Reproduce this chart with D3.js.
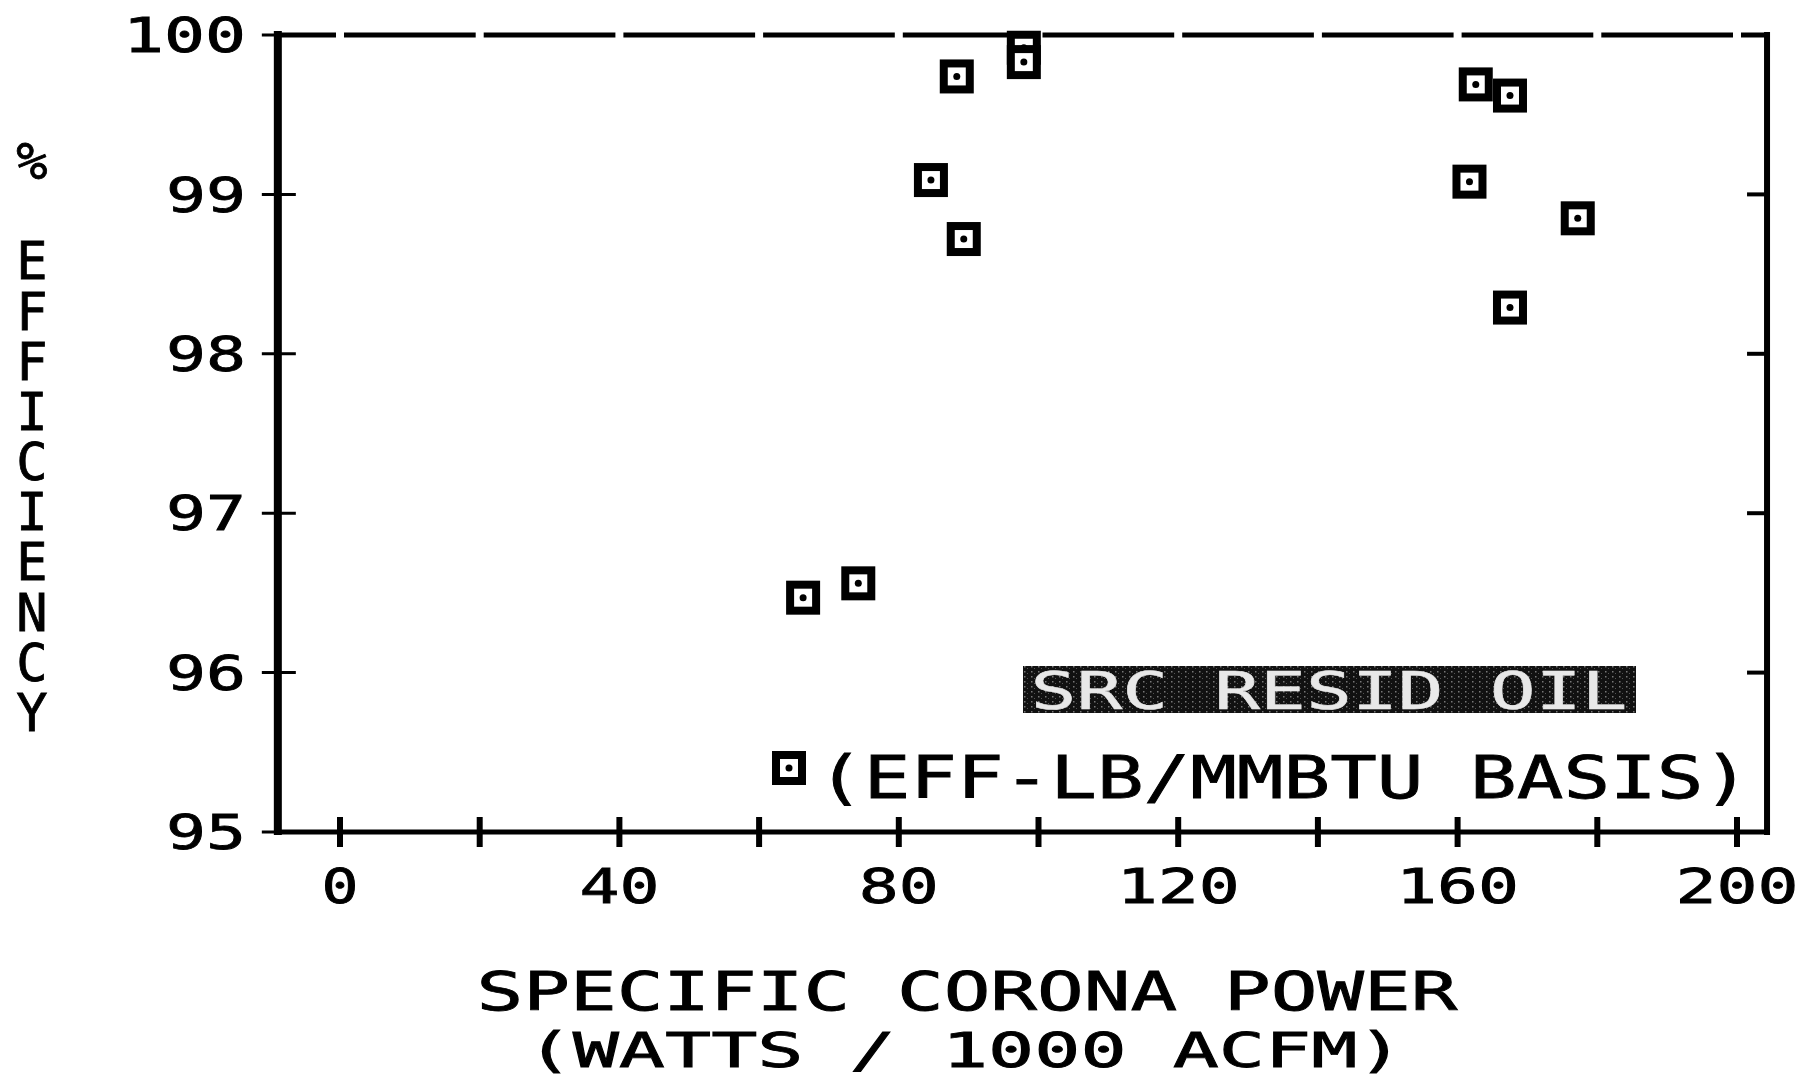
<!DOCTYPE html>
<html>
<head>
<meta charset="utf-8">
<script src="https://cdn.jsdelivr.net/npm/d3@7/dist/d3.min.js"></script>
<style>
  html, body { margin: 0; padding: 0; background: #fff; }
  svg { display: block; }
  text { font-family: "DejaVu Sans Mono", "Liberation Mono", monospace; fill: #000; stroke: #000; stroke-width: 0.8; }
</style>
</head>
<body>
<svg id="chart" width="1817" height="1079"></svg>
<script>
// data
var effX = [66.3, 74.2, 84.6, 88.3, 89.3, 97.9, 97.9, 162.6, 167.5, 161.7, 177.2, 167.5];
var effY = [96.47, 96.56, 99.09, 99.74, 98.72, 99.92, 99.83, 99.69, 99.62, 99.08, 98.85, 98.29];

var xTicks = [0, 20, 40, 60, 80, 100, 120, 140, 160, 180, 200];
var xTickLabels = [0, 40, 80, 120, 160, 200];
var yTicks = [95, 96, 97, 98, 99, 100];
var xFrame = [-8.9, 204.3];           // plot box edges in data units
var yTitle = "% EFFICIENCY";
var xTitle = ["SPECIFIC CORONA POWER", "(WATTS / 1000 ACFM)"];
var legendBox = "SRC RESID OIL";
var legendLabel = "(EFF-LB/MMBTU BASIS)";

var svg = d3.select("#chart");

var x = d3.scaleLinear().domain([0, 200]).range([340, 1737]);
var y = d3.scaleLinear().domain([95, 100]).range([832, 35]);

var pLeft = x(xFrame[0]), pRight = x(xFrame[1]);
var pTop = y(100), pBottom = y(95);

// text helper: stretched to a given width like the plotter font
function label(g, str, px, py, size, width, anchor) {
  var t = g.append("text")
    .attr("x", px).attr("y", py)
    .attr("dy", "0.36em")
    .attr("font-size", size)
    .attr("text-anchor", anchor || "middle")
    .text(str);
  if (width) t.attr("textLength", width).attr("lengthAdjust", "spacingAndGlyphs");
  return t;
}

// frame
var frame = svg.append("g").attr("stroke", "#000").attr("fill", "none");
frame.append("line").attr("x1", pLeft).attr("x2", pLeft).attr("y1", pTop - 4).attr("y2", pBottom + 3).attr("stroke-width", 8);
frame.append("line").attr("x1", pRight).attr("x2", pRight).attr("y1", pTop - 3).attr("y2", pBottom + 3).attr("stroke-width", 6);
frame.append("line").attr("x1", pLeft).attr("x2", pRight).attr("y1", pBottom).attr("y2", pBottom).attr("stroke-width", 5);

// top edge is broken at every x tick
var topStops = [xFrame[0]].concat(xTicks.filter(function(d){ return d > xFrame[0] && d < xFrame[1]; })).concat([xFrame[1]]);
d3.pairs(topStops).forEach(function(p, i) {
  var a = x(p[0]) + (i === 0 ? 0 : 4);
  var b = x(p[1]) - (i === topStops.length - 2 ? 0 : 4);
  frame.append("line").attr("x1", a).attr("x2", b).attr("y1", pTop).attr("y2", pTop).attr("stroke-width", 5);
});

// y ticks (left crossing, right inward)
frame.selectAll(".yt").data(yTicks).enter().append("line")
  .attr("x1", pLeft - 16).attr("x2", pLeft + 18)
  .attr("y1", function(d){ return y(d); }).attr("y2", function(d){ return y(d); })
  .attr("stroke-width", 3);
frame.selectAll(".yr").data(yTicks.filter(function(d){ return d > 95 && d < 100; })).enter().append("line")
  .attr("x1", pRight - 20).attr("x2", pRight)
  .attr("y1", function(d){ return y(d); }).attr("y2", function(d){ return y(d); })
  .attr("stroke-width", 4);

// x ticks crossing the bottom edge
frame.selectAll(".xt").data(xTicks).enter().append("line")
  .attr("x1", function(d){ return x(d); }).attr("x2", function(d){ return x(d); })
  .attr("y1", pBottom - 15).attr("y2", pBottom + 15)
  .attr("stroke-width", 6);

// tick labels
var lab = svg.append("g");
yTicks.forEach(function(d) {
  var s = String(d);
  label(lab, s, 246, y(d), 48, s.length * 43 - 6, "end");
});
xTickLabels.forEach(function(d) {
  var s = String(d);
  label(lab, s, x(d), 886, 48, s.length * 43 - 6, "middle");
});

// y title: upright letters stacked top to bottom
lab.append("text")
  .attr("x", 32).attr("y", 131)
  .attr("font-size", 52)
  .attr("textLength", 612).attr("lengthAdjust", "spacing")
  .style("writing-mode", "vertical-rl")
  .style("text-orientation", "upright")
  .text(yTitle);

// x title, two tight lines
lab.append("text").attr("x", 967).attr("y", 1010).attr("font-size", 53)
  .attr("text-anchor", "middle").attr("textLength", 981).attr("lengthAdjust", "spacingAndGlyphs")
  .text(xTitle[0]);
lab.append("text").attr("x", 965).attr("y", 1067).attr("font-size", 48)
  .attr("text-anchor", "middle").attr("textLength", 877).attr("lengthAdjust", "spacingAndGlyphs")
  .text(xTitle[1]);

// markers
function marker(g, px, py) {
  g.append("rect")
    .attr("x", px - 13).attr("y", py - 13)
    .attr("width", 26).attr("height", 26)
    .attr("fill", "#fff").attr("stroke", "#000").attr("stroke-width", 8);
  g.append("circle").attr("cx", px).attr("cy", py).attr("r", 3.5).attr("fill", "#000");
}

var pts = svg.append("g");
effX.forEach(function(d, i) { marker(pts, x(d), y(effY[i])); });

// legend
var leg = svg.append("g");
var defs = svg.append("defs");
var pat = defs.append("pattern").attr("id", "speck").attr("patternUnits", "userSpaceOnUse")
  .attr("width", 7).attr("height", 5);
pat.append("rect").attr("width", 7).attr("height", 5).attr("fill", "#111");
pat.append("rect").attr("x", 2).attr("y", 1).attr("width", 1.5).attr("height", 1.5).attr("fill", "#777");
pat.append("rect").attr("x", 5).attr("y", 3).attr("width", 1).attr("height", 1).attr("fill", "#555");

leg.append("rect").attr("x", 1023).attr("y", 666).attr("width", 613).attr("height", 47).attr("fill", "url(#speck)");
label(leg, legendBox, 1329, 690, 52, 597, "middle").style("fill", "#e8e8e8").style("stroke", "#e8e8e8").style("stroke-width", 0.5);

marker(leg, 789, 768);
label(leg, legendLabel, 817, 777, 58, 933, "start");
</script>
</body>
</html>
